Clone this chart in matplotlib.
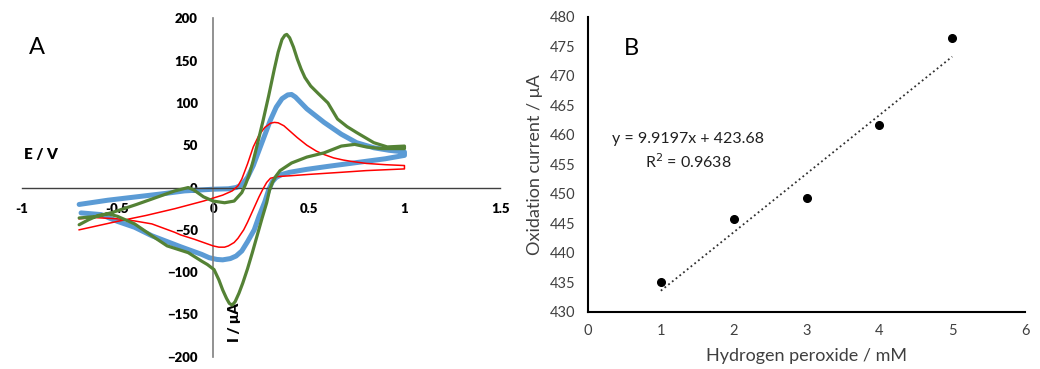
import matplotlib
matplotlib.use("Agg")
import matplotlib.pyplot as plt
import numpy as np

plt.rcParams['font.family'] = ['Lato', 'DejaVu Sans']

# --- panel A: cyclic voltammograms (E / V, I / uA) ---
red_E_fwd = [-0.70, -0.50, -0.35, -0.20, -0.05, 0.05, 0.10, 0.13, 0.15, 0.18, 0.21, 0.24, 0.27, 0.30,
             0.32, 0.34, 0.37, 0.40, 0.44, 0.49, 0.54, 0.58, 0.63, 0.68, 0.72, 0.80, 0.90, 1.00]
red_I_fwd = [-50, -40, -33, -25, -16, -9, -4, 2, 10, 28, 48, 62, 71, 76,
             77, 76.5, 73, 67, 59, 50, 43, 39, 35, 32.5, 31, 28.5, 27, 26]
red_E_rev = [1.00, 0.90, 0.80, 0.67, 0.50, 0.41, 0.34, 0.30, 0.28, 0.26, 0.24, 0.22, 0.20, 0.18,
             0.16, 0.13, 0.11, 0.08, 0.06, 0.03, 0.00, -0.05, -0.10, -0.17, -0.20, -0.32, -0.41,
             -0.50, -0.62, -0.70]
red_I_rev = [22, 21, 20, 18, 15.5, 14, 13, 11, 6, -2, -11, -21, -31, -41,
             -50, -60, -65, -69, -70.5, -70.5, -69, -65, -61, -56, -53, -43, -39.5,
             -37, -35.5, -37]

blue_E_fwd = [-0.70, -0.55, -0.40, -0.25, -0.15, 0.00, 0.08, 0.12, 0.15, 0.18, 0.21, 0.24, 0.27, 0.30,
              0.33, 0.36, 0.39, 0.41, 0.43, 0.46, 0.49, 0.58, 0.67, 0.75, 0.84, 0.92, 1.00]
blue_I_fwd = [-20, -15, -11, -7, -4, -2, -1.5, 0, 3, 12, 26, 44, 62, 80,
              95, 105, 109.5, 110, 107, 100, 93, 77, 63, 53, 47, 44, 42]
blue_E_rev = [1.00, 0.90, 0.75, 0.60, 0.49, 0.40, 0.36, 0.33, 0.31, 0.29, 0.27, 0.24, 0.215, 0.18,
              0.15, 0.12, 0.09, 0.05, 0.02, -0.02, -0.06, -0.17, -0.32, -0.41, -0.50, -0.585, -0.69]
blue_I_rev = [38, 34, 29.5, 25, 21.5, 18, 15.5, 12, 7, -3, -17, -34, -50, -64,
              -75, -81, -84, -85.5, -85, -83, -79, -70, -57, -47, -40, -32, -30]

green_E_fwd = [-0.70, -0.60, -0.52, -0.40, -0.30, -0.20, -0.13, -0.10, -0.05, 0.00, 0.06, 0.11, 0.15,
               0.17, 0.19, 0.21, 0.23, 0.26, 0.29, 0.32, 0.34, 0.36, 0.375, 0.385, 0.40, 0.42, 0.44,
               0.46, 0.48, 0.51, 0.55, 0.60, 0.65, 0.70, 0.75, 0.84, 0.91, 1.00]
green_I_fwd = [-36, -34, -29, -20, -12, -4, 0, -3, -11, -16, -18, -16, -6,
               4, 16, 32, 50, 78, 108, 140, 160, 175, 180, 181, 177, 166, 152,
               140, 130, 120, 111, 100, 81, 72, 65, 53, 48, 49]
green_E_rev = [1.00, 0.88, 0.80, 0.74, 0.67, 0.58, 0.49, 0.41, 0.35, 0.33, 0.31, 0.295, 0.28, 0.255,
               0.23, 0.205, 0.18, 0.155, 0.135, 0.115, 0.10, 0.085, 0.07, 0.05, 0.03, 0.005, -0.03,
               -0.06, -0.13, -0.24, -0.32, -0.41, -0.50, -0.55, -0.60, -0.65, -0.70]
green_I_rev = [46, 46, 48, 51, 49, 41, 36, 29, 20, 14, 6, -3, -18, -37,
               -57, -77, -96, -113, -125, -135, -139, -137, -131, -121, -109, -97, -91,
               -87, -77, -69, -57, -43, -34, -31, -33, -38, -44]

cv_xticks = [-1, -0.5, 0, 0.5, 1, 1.5]
cv_xlabels = ["-1", "-0.5", "0", "0.5", "1", "1.5"]
cv_yticks = [-200, -150, -100, -50, 0, 50, 100, 150, 200]

# --- panel B: calibration ---
h2o2_mM = [1, 2, 3, 4, 5]
ox_current = [435.0, 445.8, 449.4, 461.7, 476.5]
fit_slope = 9.9197
fit_icept = 423.68
fit_r2 = 0.9638

fig = plt.figure(figsize=(10.4, 3.69), dpi=100)

# ---------------- A ----------------
ax = fig.add_axes([0.0209, 0.0333, 0.4600, 0.9170])
ax.plot(red_E_fwd + red_E_rev, red_I_fwd + red_I_rev, color='#ff0000', lw=1.1, zorder=3,
        solid_joinstyle='round')
ax.plot(blue_E_fwd + blue_E_rev, blue_I_fwd + blue_I_rev, color='#5b9bd5', lw=3.6, zorder=2,
        solid_capstyle='round', solid_joinstyle='round')
ax.plot(green_E_fwd + green_E_rev, green_I_fwd + green_I_rev, color='#548235', lw=2.3, zorder=4,
        solid_joinstyle='round', solid_capstyle='round')
ax.set_xlim(-1, 1.5)
ax.set_ylim(-200, 200)
for s in ('top', 'right'):
    ax.spines[s].set_visible(False)
ax.spines['left'].set_position(('data', 0))
ax.spines['bottom'].set_position(('data', 0))
ax.spines['left'].set_color('#7f7f7f')
ax.spines['bottom'].set_color('#404040')
ax.spines['left'].set_linewidth(1.2)
ax.spines['bottom'].set_linewidth(1.0)
ax.set_xticks(cv_xticks)
ax.set_xticklabels(cv_xlabels)
ax.set_yticks(cv_yticks)
ax.tick_params(axis='both', length=0, labelsize=9.5)
ax.tick_params(axis='x', pad=11)
ax.tick_params(axis='y', pad=11)
for lab in ax.get_xticklabels() + ax.get_yticklabels():
    lab.set_fontweight('heavy')
ax.patch.set_alpha(0)
ax.text(-0.99, 39, "E / V", fontsize=11, fontweight='heavy', ha='left', va='center')
ax.text(0.11, -160, "I / \u03bcA", fontsize=11, fontweight='heavy', rotation=90,
        ha='center', va='center')
ax.text(-0.92, 166, "A", fontsize=17, ha='center', va='center')

# ---------------- B ----------------
bx = fig.add_axes([0.5654, 0.1545, 0.4202, 0.7995])
fx = np.array([h2o2_mM[0], h2o2_mM[-1]])
bx.plot(fx, fit_slope * fx + fit_icept, color='#303030', ls=':', lw=1.3)
bx.plot(h2o2_mM, ox_current, 'o', color='black', ms=5.5)
bx.set_xlim(0, 6)
bx.set_ylim(430, 480)
bx.set_xticks(range(0, 7))
bx.set_yticks(range(430, 481, 5))
for s in ('top', 'right'):
    bx.spines[s].set_visible(False)
for s in ('left', 'bottom'):
    bx.spines[s].set_linewidth(1.5)
    bx.spines[s].set_color('black')
bx.tick_params(axis='both', length=0, labelsize=10.5, labelcolor='#404040', pad=9)
bx.set_xlabel("Hydrogen peroxide / mM", fontsize=13, color='#404040', labelpad=7)
bx.set_ylabel("Oxidation current / \u03bcA", fontsize=13, color='#404040', labelpad=5)
bx.text(0.6, 474.7, "B", fontsize=17, ha='center', va='center')
bx.text(1.37, 459.3, "y = 9.9197x + 423.68", fontsize=11.5, ha='center', va='center', color='#202020')
bx.text(1.37, 455.4, "R$^2$ = 0.9638", fontsize=11.5, ha='center', va='center', color='#202020')

fig.savefig("out.png", dpi=100)
